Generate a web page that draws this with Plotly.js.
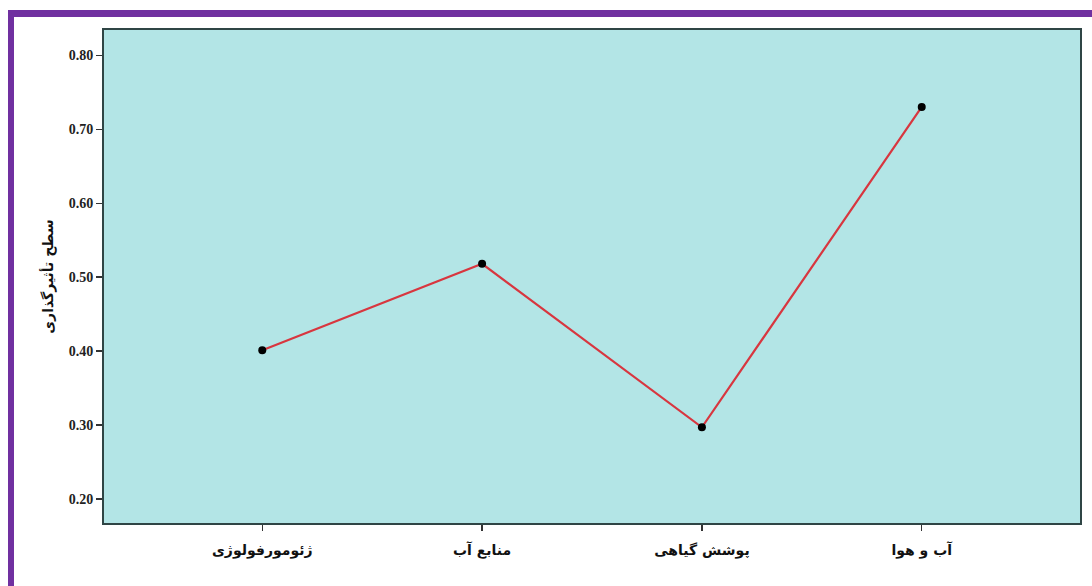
<!DOCTYPE html>
<html>
<head>
<meta charset="utf-8">
<script src="https://cdn.plot.ly/plotly-3.0.1.min.js"></script>
<style>
  html, body { margin: 0; padding: 0; background: #ffffff; }
  #wrap { position: relative; width: 1092px; height: 586px; overflow: hidden; }
  #chart { position: absolute; left: 0; top: 0; width: 1092px; height: 586px; }
  .bar { position: absolute; background: #7030a0; }
</style>
</head>
<body>
<div id="wrap">
  <div id="chart"></div>
  <div class="bar" style="left:8px; top:10px; width:1084px; height:7px;"></div>
  <div class="bar" style="left:8px; top:10px; width:6px; height:576px;"></div>
</div>
<script>
const categories = ["ژئومورفولوژی", "منابع آب", "پوشش گیاهی", "آب و هوا"];
const values = [0.401, 0.518, 0.297, 0.730];
const yTickValues = [0.20, 0.30, 0.40, 0.50, 0.60, 0.70, 0.80];
const yTickLabels = ["0.20", "0.30", "0.40", "0.50", "0.60", "0.70", "0.80"];
const yTitle = "سطح تأثیرگذاری";

const trace = {
  x: categories,
  y: values,
  type: "scatter",
  mode: "lines+markers",
  line: { color: "#d8363f", width: 2.2 },
  marker: { color: "#000000", size: 8 },
  cliponaxis: false,
  hoverinfo: "skip"
};

const layout = {
  width: 1092,
  height: 586,
  margin: { l: 104, r: 12, t: 30, b: 63 },
  paper_bgcolor: "#ffffff",
  plot_bgcolor: "#b3e5e6",
  showlegend: false,
  xaxis: {
    type: "category",
    range: [-0.72, 3.72],
    showgrid: false,
    zeroline: false,
    showline: true,
    linecolor: "#2f4545",
    linewidth: 2,
    mirror: true,
    ticks: "outside",
    ticklen: 6,
    tickwidth: 1.2,
    tickcolor: "#333333",
    ticklabelstandoff: 7,
    tickfont: { family: "DejaVu Sans", size: 14, color: "#111111", weight: "bold" },
    fixedrange: true
  },
  yaxis: {
    range: [0.1676, 0.834],
    tickvals: yTickValues,
    ticktext: yTickLabels,
    showgrid: false,
    zeroline: false,
    showline: true,
    linecolor: "#2f4545",
    linewidth: 2,
    mirror: true,
    ticks: "outside",
    ticklen: 6,
    tickwidth: 1.2,
    tickcolor: "#333333",
    tickfont: { family: "Liberation Serif", size: 14, color: "#222222", weight: "bold" },
    title: {
      text: yTitle,
      font: { family: "DejaVu Sans", size: 14, color: "#111111", weight: "bold" },
      standoff: 12
    },
    fixedrange: true
  }
};

Plotly.newPlot("chart", [trace], layout, { staticPlot: true, displayModeBar: false });
</script>
</body>
</html>
